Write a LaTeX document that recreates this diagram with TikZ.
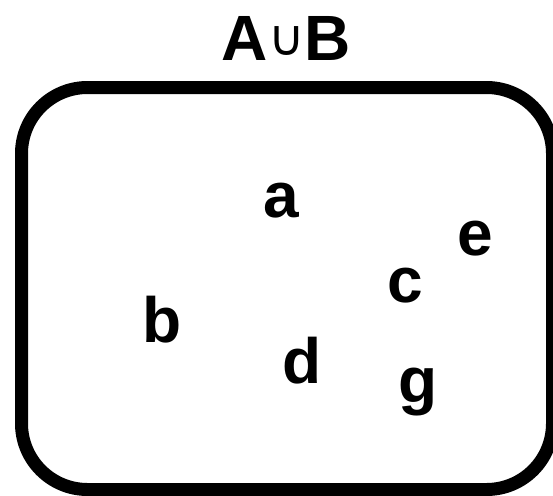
\documentclass[tikz,border=0pt]{standalone}
\usepackage{fontspec}
\setmainfont{Liberation Sans}
\newfontfamily\symfont{DejaVu Sans}
\begin{document}
\begin{tikzpicture}[x=1pt,y=-1pt,
  elem/.style={anchor=base,inner sep=0pt,font=\fontsize{64}{70}\selectfont\bfseries},
  unionsign/.style={anchor=base,inner sep=0pt,font=\fontsize{50}{56}\selectfont\symfont},
  setbox/.style={line width=13pt,rounded corners=66pt}]
\useasboundingbox (0,0) rectangle (553,495);
% set boundary
\draw[setbox] (21.5,87.5) rectangle (552.5,489.5);
% title A ∪ B
\node[elem] (tA) at (245,60) {A};
\node[unionsign] (tU) at (287,56) {∪};
\node[elem] (tB) at (328,60) {B};
% elements
\node[elem] (ea) at (281,217) {a};
\node[elem] (ee) at (475,255) {e};
\node[elem] (ec) at (405,302) {c};
\node[elem] (eb) at (162,342) {b};
\node[elem] (ed) at (302,383) {d};
\node[elem] (eg) at (418,402) {g};
\end{tikzpicture}
\end{document}
